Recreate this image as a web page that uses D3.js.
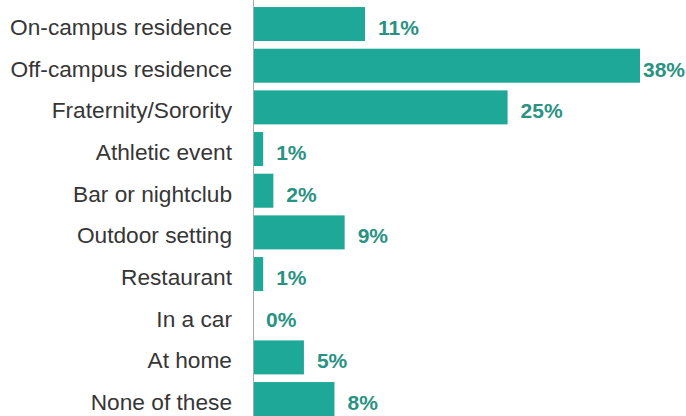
<!DOCTYPE html>
<html>
<head>
<meta charset="utf-8">
<script src="https://cdn.jsdelivr.net/npm/d3@7"></script>
<style>
  html, body { margin: 0; padding: 0; background: #fff; }
  svg { display: block; }
</style>
</head>
<body>
<svg id="chart" width="686" height="416"></svg>
<script>
const categories = ["On-campus residence", "Off-campus residence", "Fraternity/Sorority", "Athletic event", "Bar or nightclub", "Outdoor setting", "Restaurant", "In a car", "At home", "None of these"];
const values = [11, 38, 25, 1, 2, 9, 1, 0, 5, 8];
const valueLabels = ["11%", "38%", "25%", "1%", "2%", "9%", "1%", "0%", "5%", "8%"];

const W = 686, H = 416;
const svg = d3.select("#chart");

const x = d3.scaleLinear().domain([0, 38]).range([253, 640]);
const y = d3.scaleBand().domain(categories).range([3.2, 419.9]).paddingInner(0.184).paddingOuter(0.092);

// bars
svg.append("g").selectAll("rect").data(categories).join("rect")
  .attr("x", x(0))
  .attr("y", d => y(d))
  .attr("width", (d, i) => x(values[i]) - x(0))
  .attr("height", y.bandwidth())
  .attr("fill", "#1ea898");

// axis line with category labels
const yAxis = d3.axisLeft(y).tickSize(0).tickPadding(21);
const ag = svg.append("g").attr("transform", `translate(${x(0)},0)`).call(yAxis);
ag.select(".domain").attr("d", `M0.5,0V${H}`).attr("stroke", "#a8a8a8").attr("stroke-width", 1);
ag.selectAll(".tick text")
  .attr("font-family", "'Liberation Sans', Arial, Helvetica, sans-serif")
  .attr("font-size", "22.7px")
  .attr("fill", "#363636")
  .attr("dy", null)
  .attr("y", 11);

// value labels
const lbl = svg.append("g").selectAll("text").data(categories).join("text")
  .attr("font-family", "'Liberation Sans', Arial, Helvetica, sans-serif")
  .attr("font-size", "21px")
  .attr("font-weight", "bold")
  .attr("fill", "#2a9282")
  .attr("y", d => y(d) + y.bandwidth() / 2 + 11)
  .text((d, i) => valueLabels[i]);
lbl.attr("x", function(d, i) {
  const w = this.getComputedTextLength();
  return Math.min(x(values[i]) + 13, W - 1 - w);
});
</script>
</body>
</html>
